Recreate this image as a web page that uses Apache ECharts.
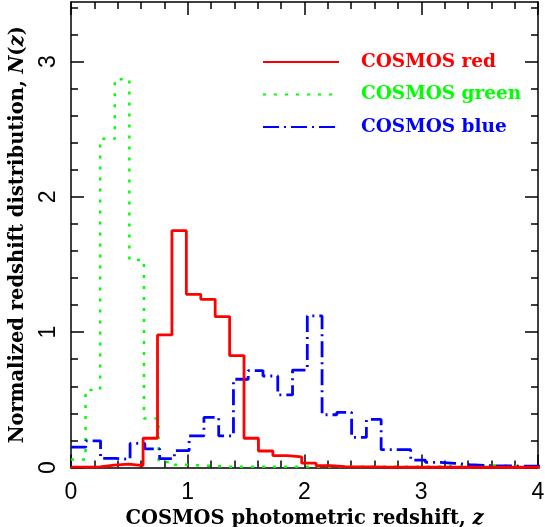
<!DOCTYPE html>
<html><head><meta charset="utf-8">
<script src="https://cdn.jsdelivr.net/npm/echarts@6/dist/echarts.min.js"></script>
<style>html,body{margin:0;padding:0;background:#fff}#c{width:545px;height:527px}</style>
</head><body><div id="c"></div>
<script>
// ---- data ----
const seriesNames = ['COSMOS red', 'COSMOS green', 'COSMOS blue'];
// histogram bin widths (in z) per sample
const redBinWidth = 0.1235;
const greenBinWidth = 0.125;
const blueBinWidth = 0.1265;
// N(z) per bin, bins starting at z = 0
const redValues = [0.003, 0.005, 0.018, 0.025, 0.014, 0.216, 0.98, 1.75, 1.28, 1.243,
  1.115, 0.827, 0.216, 0.122, 0.088, 0.078, 0.032, 0.013, 0.006, 0.004,
  0.004, 0.003, 0.003, 0.002, 0.002, 0.002, 0.002, 0.002, 0.002, 0.002,
  0.002, 0.002, 0.002, 0.002];
const greenValues = [0.06, 0.573, 2.43, 2.87, 1.534, 0.363, 0.04, 0.02, 0.015, 0.01,
  0.005, 0.005, 0.005, 0.005, 0.005, 0.005, 0.005, 0.005, 0.005, 0.005,
  0.005, 0.005, 0.005, 0.005, 0.005, 0.012, 0.012, 0.015, 0.015, 0.012,
  0.01, 0.008, 0.008];
const blueValues = [0.15, 0.197, 0.068, 0.06, 0.178, 0.138, 0.065, 0.124, 0.233, 0.37,
  0.233, 0.652, 0.716, 0.676, 0.536, 0.72, 1.12, 0.39, 0.408, 0.222,
  0.355, 0.132, 0.132, 0.055, 0.038, 0.031, 0.022, 0.015, 0.011, 0.011,
  0.01, 0.01, 0.008];
const xMajorTicks = [0, 1, 2, 3, 4];
const xMinorTicks = [0.2, 0.4, 0.6, 0.8, 1.2, 1.4, 1.6, 1.8, 2.2, 2.4, 2.6, 2.8, 3.2, 3.4, 3.6, 3.8];
const yMajorTicks = [0, 1, 2, 3];
const yMinorTicks = [0.2, 0.4, 0.6, 0.8, 1.2, 1.4, 1.6, 1.8, 2.2, 2.4, 2.6, 2.8, 3.2, 3.4];
const xRange = [0, 4];
const yRange = [0, 3.44];
const colors = ['#ff0000', '#00ff00', '#0000ff'];

// ---- build ----
function stepData(values, w) {
  const d = values.map((v, k) => [k * w, v]);
  d.push([values.length * w, values[values.length - 1]]);
  return d;
}
const tickStyle = {color: '#000', width: 1.5};
function axis(kind, pos, ticks, len, opts) {
  const r = kind === 'x' ? xRange : yRange;
  return Object.assign({
    type: 'value', min: r[0], max: r[1], position: pos,
    axisLine: {show: false, onZero: false, lineStyle: {color: '#000', width: 1.5}},
    axisTick: {show: true, inside: true, length: len, customValues: ticks, lineStyle: tickStyle},
    axisLabel: {show: false},
    splitLine: {show: false},
    silent: true
  }, opts || {});
}
const labelFont = {fontFamily: 'Liberation Sans', fontSize: 23, color: '#000'};
const titleFont = {fontFamily: 'DejaVu Serif', fontWeight: 'bold', fontSize: 19.5, color: '#000',
  rich: {i: {fontFamily: 'DejaVu Serif', fontStyle: 'italic', fontWeight: 'bold', fontSize: 19.5, color: '#000'}}};

const chart = echarts.init(document.getElementById('c'), null, {renderer: 'canvas'});
chart.setOption({
  animation: false,
  backgroundColor: '#fff',
  grid: {left: 71, right: 7, top: 2, bottom: 59.5, containLabel: false, outerBoundsMode: 'none'},
  xAxis: [
    axis('x', 'bottom', xMajorTicks, 13, {
      axisLine: {show: true, onZero: false, lineStyle: {color: '#000', width: 1.5}},
      axisLabel: Object.assign({show: true, margin: 14, customValues: xMajorTicks}, labelFont),
      name: 'COSMOS photometric redshift, {i|z}', nameLocation: 'middle', nameGap: 34,
      nameTextStyle: titleFont
    }),
    axis('x', 'bottom', xMinorTicks, 7),
    axis('x', 'top', xMajorTicks, 13, {axisLine: {show: true, onZero: false, lineStyle: {color: '#000', width: 1.5}}}),
    axis('x', 'top', xMinorTicks, 7)
  ],
  yAxis: [
    axis('y', 'left', yMajorTicks, 13, {
      axisLine: {show: true, onZero: false, lineStyle: {color: '#000', width: 1.5}},
      axisLabel: Object.assign({show: true, margin: 11, rotate: 90, customValues: yMajorTicks}, labelFont),
      name: 'Normalized redshift distribution, {i|N}({i|z})', nameLocation: 'middle', nameGap: 43,
      nameRotate: 90, nameTextStyle: titleFont
    }),
    axis('y', 'left', yMinorTicks, 7),
    axis('y', 'right', yMajorTicks, 13, {axisLine: {show: true, onZero: false, lineStyle: {color: '#000', width: 1.5}}}),
    axis('y', 'right', yMinorTicks, 7)
  ],
  legend: {
    orient: 'vertical', left: 262, top: 52, padding: 0, itemWidth: 76, itemHeight: 14, itemGap: 12.5,
    itemStyle: {opacity: 0}, selectedMode: false,
    textStyle: {fontFamily: 'DejaVu Serif', fontWeight: 'bold', fontSize: 18.5, lineHeight: 20, padding: [0, 0, 0, 17]},
    data: seriesNames.map((n, i) => ({name: n, textStyle: {color: colors[i]}}))
  },
  series: [
    {name: seriesNames[1], type: 'line', step: 'end', symbol: 'none', showSymbol: false, silent: true,
      data: stepData(greenValues, greenBinWidth),
      lineStyle: {color: colors[1], width: 2.5, type: [3, 8], cap: 'butt'}, itemStyle: {color: colors[1]}},
    {name: seriesNames[2], type: 'line', step: 'end', symbol: 'none', showSymbol: false, silent: true,
      data: stepData(blueValues, blueBinWidth),
      lineStyle: {color: colors[2], width: 2.8, type: [16, 5, 2, 5], cap: 'butt'}, itemStyle: {color: colors[2]}},
    {name: seriesNames[0], type: 'line', step: 'end', symbol: 'none', showSymbol: false, silent: true,
      data: stepData(redValues, redBinWidth),
      lineStyle: {color: colors[0], width: 2.8, type: 'solid'}, itemStyle: {color: colors[0]}}
  ]
});
</script></body></html>
